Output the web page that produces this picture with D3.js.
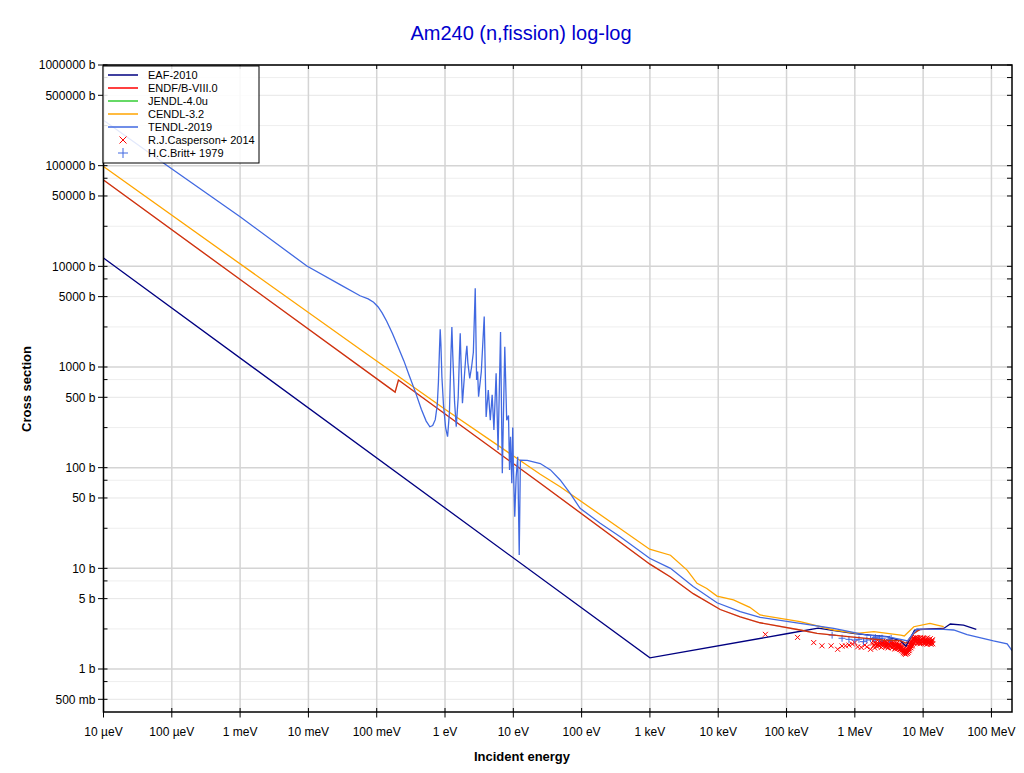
<!DOCTYPE html>
<html><head><meta charset="utf-8">
<script src="https://cdn.jsdelivr.net/npm/d3@7/dist/d3.min.js"></script>
<style>body{margin:0;background:#fff;font-family:"Liberation Sans",Arial,sans-serif;}</style>
</head><body><svg id="c" width="1024" height="773"></svg>
<script>
// ---------- data (E in eV, sigma in barn) ----------
const eafE = [1e-5, 1e3, 1e5, 2.9e5, 5e5, 1e6, 2e6, 3e6, 4.7e6, 5.6e6, 7.5e6, 1.2e7, 2e7, 2.5e7, 3.9e7, 6e7];
const eafS = [12100, 1.29, 2.24, 2.55, 2.4, 2.25, 2.15, 2.1, 1.9, 1.69, 2.44, 2.5, 2.53, 2.8, 2.73, 2.48];

const endfE = [1e-5, 0.186, 0.208, 24.8, 1e3, 2000, 4300, 1.07e4, 2.1e4, 4.1e4, 1.58e5, 2.8e5, 8.7e5, 2.65e6, 4.7e6, 5.6e6, 7.3e6, 9.1e6, 1.8e7, 2e7];
const endfS = [71900, 563, 743, 70, 11.0, 8.2, 5.6, 3.9, 3.3, 2.88, 2.44, 2.26, 2.09, 1.94, 1.91, 1.8, 2.26, 2.48, 2.48, 2.5];

const jendlE = endfE;
const jendlS = endfS;

const cendlE = [1e-5, 0.057, 1, 24.8, 48.5, 990, 2000, 3500, 4900, 6800, 9600, 1.67e4, 2.9e4, 4.1e4, 1.58e5, 4.9e5, 1.07e6, 1.9e6, 4.7e6, 5.3e6, 7.3e6, 1.26e7, 1.6e7, 2e7];
const cendlS = [98000, 1500, 380, 86, 64.7, 15.5, 13.5, 9.6, 7.1, 6.3, 5.3, 4.85, 4.1, 3.44, 2.95, 2.44, 2.26, 2.35, 2.17, 2.13, 2.63, 2.84, 2.73, 2.63];

const tendlE = [1e-5, 8.4e-5, 1e-3, 9.5e-3, 0.03, 0.057, 0.075, 0.09, 0.105, 0.12, 0.14, 0.17, 0.2, 0.25, 0.3, 0.37, 0.45, 0.53, 0.6, 0.66, 0.72, 0.77, 0.8, 0.83, 0.85, 0.87, 0.9, 0.95, 1.02, 1.09, 1.16, 1.22, 1.26, 1.3, 1.38, 1.46, 1.56, 1.63, 1.67, 1.71, 1.80, 1.92, 2.02, 2.09, 2.16, 2.3, 2.45, 2.6, 2.77, 2.9, 3.0, 3.1, 3.4, 3.75, 4.0, 4.3, 4.6, 4.9, 5.2, 5.6, 5.98, 6.5, 6.9, 7.5, 8.0, 8.5, 8.8, 9.1, 9.5, 9.8, 10.0, 10.5, 11.0, 11.6, 12.2, 12.7, 16, 24.8, 35, 48.5, 68, 95, 187, 367, 990, 2000, 4300, 9600, 2.1e4, 4.1e4, 1.58e5, 4.9e5, 1.5e6, 3e6, 4.7e6, 5.9e6, 8.1e6, 1.4e7, 2e7, 2.8e7, 4.4e7, 1.07e8, 1.7e8, 2e8];
const tendlS = [282000, 101000, 31100, 10070, 6500, 5100, 4750, 4400, 3950, 3450, 2850, 2150, 1650, 1150, 820, 560, 380, 290, 255, 262, 300, 420, 700, 1500, 2370, 1700, 800, 420, 250, 203, 350, 1300, 2500, 1300, 450, 255, 500, 1400, 2160, 1200, 436, 800, 1300, 1620, 1100, 770, 1000, 1400, 6050, 743, 900, 507, 900, 3170, 319, 590, 296, 530, 237, 866, 150, 2230, 88, 1590, 296, 330, 95, 203, 70, 250, 110, 32.6, 81, 128, 13.6, 119, 118, 110, 95, 75.5, 55.6, 39.5, 28, 20.6, 12.6, 10.0, 6.6, 4.55, 3.71, 3.26, 2.84, 2.53, 2.17, 2.09, 1.97, 1.9, 2.5, 2.48, 2.48, 2.44, 2.2, 1.9, 1.78, 1.52];

const casE = [4.9e4, 1.45e5, 2.5e5, 3.3e5, 4.5e5, 5.6e5, 6.5e5, 7.3e5, 8.2e5, 9.2e5, 1.0e6, 1.1e6, 1.24e6, 1.4e6, 1.5e6, 1.7e6, 1.8e6,
  1.9e6, 2.0e6, 2.1e6, 2.2e6, 2.3e6, 2.4e6, 2.5e6, 2.6e6, 2.7e6, 2.8e6, 2.9e6, 3.0e6, 3.1e6, 3.2e6, 3.3e6, 3.4e6, 3.5e6, 3.6e6, 3.7e6, 3.8e6, 3.9e6, 4.0e6,
  4.1e6, 4.2e6, 4.3e6, 4.4e6, 4.5e6, 4.6e6, 4.7e6, 4.8e6, 4.9e6, 5.0e6, 5.1e6, 5.2e6, 5.3e6, 5.4e6, 5.5e6, 5.6e6, 5.7e6, 5.8e6, 5.9e6, 6.0e6,
  6.1e6, 6.2e6, 6.3e6, 6.4e6, 6.5e6, 6.6e6, 6.7e6, 6.8e6, 6.9e6, 7.0e6, 7.2e6, 7.4e6, 7.6e6, 7.8e6, 8.0e6, 8.2e6, 8.4e6, 8.6e6, 8.8e6, 9.0e6,
  9.3e6, 9.6e6, 9.9e6, 1.02e7, 1.05e7, 1.08e7, 1.11e7, 1.14e7, 1.17e7, 1.2e7, 1.23e7, 1.26e7, 1.29e7, 1.32e7, 1.35e7, 1.38e7,
  1.85e6, 1.95e6, 2.05e6, 2.15e6, 2.25e6, 2.35e6, 2.45e6, 2.55e6, 2.65e6, 2.75e6, 2.85e6, 2.95e6, 3.05e6, 3.15e6, 3.25e6, 3.35e6, 3.45e6, 3.55e6, 3.65e6, 3.75e6,
  3.85e6, 3.95e6, 4.05e6, 4.15e6, 4.25e6, 4.35e6, 4.45e6, 4.55e6, 4.65e6, 4.75e6, 4.85e6, 4.95e6, 5.05e6, 5.15e6, 5.25e6, 5.35e6, 5.45e6, 5.55e6, 5.65e6, 5.75e6,
  5.85e6, 5.95e6, 6.05e6, 6.15e6, 6.25e6, 6.35e6, 6.45e6, 6.55e6, 6.65e6, 6.75e6, 6.85e6, 6.95e6, 7.1e6, 7.3e6, 7.5e6, 7.7e6, 7.9e6, 8.1e6, 8.3e6, 8.5e6,
  8.7e6, 8.9e6, 9.15e6, 9.45e6, 9.75e6, 1.005e7, 1.035e7, 1.065e7, 1.095e7, 1.125e7, 1.155e7, 1.185e7, 1.215e7, 1.245e7, 1.275e7, 1.305e7, 1.335e7, 1.365e7];
const casS = [2.21, 2.06, 1.83, 1.70, 1.70, 1.57, 1.69, 1.70, 1.73, 1.77, 1.83, 1.66, 1.64, 1.73, 1.66, 1.57, 1.80,
  1.72, 1.85, 1.68, 1.78, 1.90, 1.74, 1.82, 1.70, 1.86, 1.76, 1.66, 1.80, 1.88, 1.72, 1.79, 1.65, 1.83, 1.74, 1.69, 1.78, 1.62, 1.73,
  1.80, 1.66, 1.71, 1.60, 1.75, 1.64, 1.57, 1.68, 1.55, 1.62, 1.50, 1.58, 1.47, 1.54, 1.44, 1.52, 1.46, 1.56, 1.49, 1.60,
  1.53, 1.66, 1.58, 1.72, 1.64, 1.80, 1.70, 1.88, 1.76, 1.95, 1.84, 2.02, 1.90, 1.98, 1.82, 2.05, 1.92, 1.86, 2.00, 1.78,
  1.95, 1.88, 2.03, 1.80, 1.93, 1.85, 2.00, 1.76, 1.90, 1.83, 1.97, 1.79, 1.88, 1.82, 1.92, 1.78,
  1.90, 1.62, 1.77, 1.93, 1.70, 1.81, 1.64, 1.88, 1.78, 1.67, 1.84, 1.73, 1.62, 1.77, 1.85, 1.70, 1.76, 1.63, 1.80, 1.72,
  1.58, 1.76, 1.67, 1.59, 1.74, 1.65, 1.70, 1.56, 1.69, 1.61, 1.52, 1.65, 1.56, 1.45, 1.52, 1.42, 1.50, 1.40, 1.48, 1.52,
  1.43, 1.55, 1.47, 1.60, 1.52, 1.65, 1.76, 1.70, 1.62, 1.83, 1.92, 1.70, 2.00, 1.80, 1.96, 2.06, 1.88, 1.95, 1.80, 2.02,
  1.90, 1.83, 2.05, 1.82, 1.97, 1.86, 2.02, 1.78, 1.92, 1.86, 2.04, 1.80, 1.91, 1.85, 2.00, 1.76, 1.87, 1.95];

const brittE = [4.65e5, 6.5e5, 8.2e5, 1.0e6, 1.15e6, 1.34e6, 1.5e6, 1.7e6, 1.9e6, 2.0e6, 2.3e6, 2.5e6, 3.2e6, 3.4e6];
const brittS = [2.17, 2.02, 1.97, 1.94, 1.97, 1.87, 1.94, 2.0, 2.02, 2.05, 2.0, 2.02, 1.97, 2.02];

const xTickVals = [1e-5, 1e-4, 1e-3, 1e-2, 1e-1, 1, 10, 100, 1e3, 1e4, 1e5, 1e6, 1e7, 1e8];
const xTickLabels = ["10 µeV", "100 µeV", "1 meV", "10 meV", "100 meV", "1 eV", "10 eV", "100 eV", "1 keV", "10 keV", "100 keV", "1 MeV", "10 MeV", "100 MeV"];
const yTickVals = [1e6, 5e5, 1e5, 5e4, 1e4, 5e3, 1e3, 500, 100, 50, 10, 5, 1, 0.5];
const yTickLabels = ["1000000 b", "500000 b", "100000 b", "50000 b", "10000 b", "5000 b", "1000 b", "500 b", "100 b", "50 b", "10 b", "5 b", "1 b", "500 mb"];
const yMinorVals = [7.5e5, 2.5e5, 7.5e4, 2.5e4, 7500, 2500, 750, 250, 75, 25, 7.5, 2.5, 0.75];

const seriesNames = ["EAF-2010", "ENDF/B-VIII.0", "JENDL-4.0u", "CENDL-3.2", "TENDL-2019"];
const seriesColors = ["#000080", "#ff0000", "#33cc33", "#ffa500", "#4169e1"];

// ---------- drawing ----------
const svg = d3.select("#c");
const L = 103.5, R = 1012, T = 65, B = 712;
const x = d3.scaleLog().domain([1e-5, 2e8]).range([L, R]);
const y = d3.scaleLog().domain([0.374, 1e6]).range([B, T]);

svg.append("text").attr("x", 521).attr("y", 40).attr("text-anchor", "middle")
  .attr("font-size", 20).attr("fill", "#0000cd").text("Am240 (n,fission) log-log");

svg.append("defs").append("clipPath").attr("id", "clip")
  .append("rect").attr("x", L).attr("y", T).attr("width", R - L).attr("height", B - T);

const grid = svg.append("g");
grid.selectAll(".ym").data(yMinorVals).join("line")
  .attr("x1", L).attr("x2", R).attr("y1", d => y(d)).attr("y2", d => y(d))
  .attr("stroke", "#eeeeee").attr("stroke-width", 1);
grid.selectAll(".y5").data(yTickVals.filter((d, i) => i % 2 === 1)).join("line")
  .attr("x1", L).attr("x2", R).attr("y1", d => y(d)).attr("y2", d => y(d))
  .attr("stroke", "#e6e6e6").attr("stroke-width", 1);
grid.selectAll(".y1").data(yTickVals.filter((d, i) => i % 2 === 0)).join("line")
  .attr("x1", L).attr("x2", R).attr("y1", d => y(d)).attr("y2", d => y(d))
  .attr("stroke", "#d4d4d4").attr("stroke-width", 1.5);
grid.selectAll(".xg").data(xTickVals).join("line")
  .attr("x1", d => x(d)).attr("x2", d => x(d)).attr("y1", T).attr("y2", B)
  .attr("stroke", "#d4d4d4").attr("stroke-width", 1.5);

const plot = svg.append("g").attr("clip-path", "url(#clip)");
const line = d3.line().x(d => x(d[0])).y(d => y(d[1]));

// experimental points
plot.append("g").selectAll("path").data(d3.zip(casE, casS)).join("path")
  .attr("transform", d => `translate(${x(d[0])},${y(d[1])})`)
  .attr("d", "M-2.5,-2.5L2.5,2.5M-2.5,2.5L2.5,-2.5").attr("stroke", "#ff0000").attr("stroke-width", 1).attr("fill", "none");
plot.append("g").selectAll("path").data(d3.zip(brittE, brittS)).join("path")
  .attr("transform", d => `translate(${x(d[0])},${y(d[1])})`)
  .attr("d", "M-3.5,0L3.5,0M0,-3.5L0,3.5").attr("stroke", "#4169e1").attr("stroke-width", 1).attr("fill", "none");

const curves = [
  [d3.zip(eafE, eafS), seriesColors[0], 1],
  [d3.zip(endfE, endfS), seriesColors[1], 1],
  [d3.zip(jendlE, jendlS), seriesColors[2], 0.25],
  [d3.zip(cendlE, cendlS), seriesColors[3], 1],
  [d3.zip(tendlE, tendlS), seriesColors[4], 1]
];
curves.forEach(([pts, col, op]) => {
  plot.append("path").datum(pts).attr("d", line).attr("fill", "none")
    .attr("stroke", col).attr("stroke-opacity", op).attr("stroke-width", 1.3);
});

// frame
svg.append("rect").attr("x", L).attr("y", T).attr("width", R - L).attr("height", B - T)
  .attr("fill", "none").attr("stroke", "#000").attr("stroke-width", 1.5);

// axes ticks
const ax = svg.append("g").attr("font-size", 12).attr("fill", "#000");
ax.selectAll(".ytl").data(yTickVals).join("line")
  .attr("x1", L - 5.5).attr("x2", L + 4).attr("y1", d => y(d)).attr("y2", d => y(d)).attr("stroke", "#000").attr("stroke-width", 1);
ax.selectAll(".ytm").data(yMinorVals).join("line")
  .attr("x1", L).attr("x2", L + 4).attr("y1", d => y(d)).attr("y2", d => y(d)).attr("stroke", "#000").attr("stroke-width", 1);
ax.selectAll(".ytr").data(yTickVals.concat(yMinorVals)).join("line")
  .attr("x1", R - 5).attr("x2", R).attr("y1", d => y(d)).attr("y2", d => y(d)).attr("stroke", "#000").attr("stroke-width", 1);
ax.selectAll(".ylab").data(yTickVals).join("text")
  .attr("x", L - 8).attr("y", d => y(d)).attr("dy", "0.35em").attr("text-anchor", "end").text((d, i) => yTickLabels[i]);
ax.selectAll(".xt").data(xTickVals).join("line")
  .attr("x1", d => x(d)).attr("x2", d => x(d)).attr("y1", B - 4).attr("y2", B + 5.5).attr("stroke", "#000").attr("stroke-width", 1);
ax.selectAll(".xtt").data(xTickVals).join("line")
  .attr("x1", d => x(d)).attr("x2", d => x(d)).attr("y1", T).attr("y2", T + 4).attr("stroke", "#000").attr("stroke-width", 1);
ax.selectAll(".xlab").data(xTickVals).join("text")
  .attr("x", d => x(d)).attr("y", B + 24).attr("text-anchor", "middle").text((d, i) => xTickLabels[i]);

svg.append("text").attr("x", 522).attr("y", 761).attr("text-anchor", "middle")
  .attr("font-size", 13).attr("font-weight", "bold").text("Incident energy");
svg.append("text").attr("transform", "translate(31,389) rotate(-90)").attr("text-anchor", "middle")
  .attr("font-size", 13).attr("font-weight", "bold").text("Cross section");

// legend
const lg = svg.append("g");
lg.append("rect").attr("x", 103).attr("y", 66).attr("width", 156).attr("height", 97)
  .attr("fill", "#fff").attr("fill-opacity", 0.85).attr("stroke", "#000").attr("stroke-width", 1);
const rowY = i => 75 + i * 13;
seriesNames.forEach((n, i) => {
  lg.append("line").attr("x1", 108).attr("x2", 138).attr("y1", rowY(i)).attr("y2", rowY(i))
    .attr("stroke", seriesColors[i]).attr("stroke-width", 1.5);
  lg.append("text").attr("x", 148).attr("y", rowY(i)).attr("dy", "0.35em").attr("font-size", 11).text(n);
});
lg.append("path").attr("transform", `translate(123,${rowY(5)})`).attr("d", "M-3.5,-3.5L3.5,3.5M-3.5,3.5L3.5,-3.5")
  .attr("stroke", "#ff0000").attr("stroke-width", 1);
lg.append("text").attr("x", 148).attr("y", rowY(5)).attr("dy", "0.35em").attr("font-size", 11).text("R.J.Casperson+ 2014");
lg.append("path").attr("transform", `translate(123,${rowY(6)})`).attr("d", "M-5,0L5,0M0,-5L0,5")
  .attr("stroke", "#4169e1").attr("stroke-width", 1);
lg.append("text").attr("x", 148).attr("y", rowY(6)).attr("dy", "0.35em").attr("font-size", 11).text("H.C.Britt+ 1979");
</script></body></html>
